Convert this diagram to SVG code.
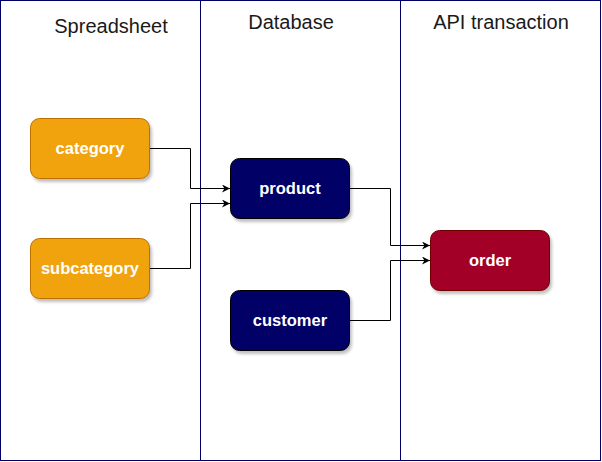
<svg xmlns="http://www.w3.org/2000/svg" width="602" height="462" viewBox="0 0 602 462">
<style>
.lane{fill:#ffffff;stroke:#000066;stroke-width:1}
.title{font-family:"Liberation Sans",Arial,sans-serif;font-size:20px;fill:#1a1a1a;text-anchor:middle}
.lbl{font-family:"Liberation Sans",Arial,sans-serif;font-size:16.5px;font-weight:bold;fill:#ffffff;text-anchor:middle}
.amber{fill:#f0a30a;stroke:#bd7000;stroke-width:1}
.navy{fill:#000066;stroke:#000000;stroke-width:1}
.red{fill:#a20025;stroke:#6f0000;stroke-width:1}
.edge{fill:none;stroke:#000000;stroke-width:1}
</style>
<defs>
<filter id="sh" x="-20%" y="-20%" width="150%" height="160%">
<feGaussianBlur in="SourceAlpha" stdDeviation="1.5"/>
<feOffset dx="2" dy="3" result="b"/>
<feComponentTransfer><feFuncA type="linear" slope="0.25"/></feComponentTransfer>
<feMerge><feMergeNode/><feMergeNode in="SourceGraphic"/></feMerge>
</filter>
<marker id="arr" viewBox="0 0 10 10" refX="10" refY="5" markerWidth="8" markerHeight="8" markerUnits="userSpaceOnUse" orient="auto">
<path d="M0,0 L10,5 L0,10 L3,5 Z" fill="#000000"/>
</marker>
</defs>
<g id="lane-spreadsheet">
<rect class="lane" x="0.5" y="0.5" width="200" height="460"/>
<text class="title" x="111" y="33">Spreadsheet</text>
</g>
<g id="lane-database">
<rect class="lane" x="200.5" y="0.5" width="200" height="460"/>
<text class="title" x="291" y="29">Database</text>
</g>
<g id="lane-api">
<rect class="lane" x="400.5" y="0.5" width="200" height="460"/>
<text class="title" x="501" y="29">API transaction</text>
</g>
<g id="connectors">
<path class="edge" marker-end="url(#arr)" d="M150,148.5 H190.5 V188.5 H230"/>
<path class="edge" marker-end="url(#arr)" d="M150,268.5 H190.5 V203.5 H230"/>
<path class="edge" marker-end="url(#arr)" d="M350,188.5 H390.5 V245.5 H430"/>
<path class="edge" marker-end="url(#arr)" d="M350,320.5 H390.5 V260.5 H430"/>
</g>
<g id="node-category">
<rect class="amber" filter="url(#sh)" x="30.5" y="118.5" width="119" height="60" rx="9"/>
<text class="lbl" x="90" y="154">category</text>
</g>
<g id="node-subcategory">
<rect class="amber" filter="url(#sh)" x="30.5" y="238.5" width="119" height="60" rx="9"/>
<text class="lbl" x="90" y="274">subcategory</text>
</g>
<g id="node-product">
<rect class="navy" filter="url(#sh)" x="230.5" y="158.5" width="119" height="60" rx="9"/>
<text class="lbl" x="290" y="194">product</text>
</g>
<g id="node-customer">
<rect class="navy" filter="url(#sh)" x="230.5" y="290.5" width="119" height="60" rx="9"/>
<text class="lbl" x="290" y="326">customer</text>
</g>
<g id="node-order">
<rect class="red" filter="url(#sh)" x="430.5" y="230.5" width="119" height="60" rx="9"/>
<text class="lbl" x="490" y="266">order</text>
</g>
</svg>
